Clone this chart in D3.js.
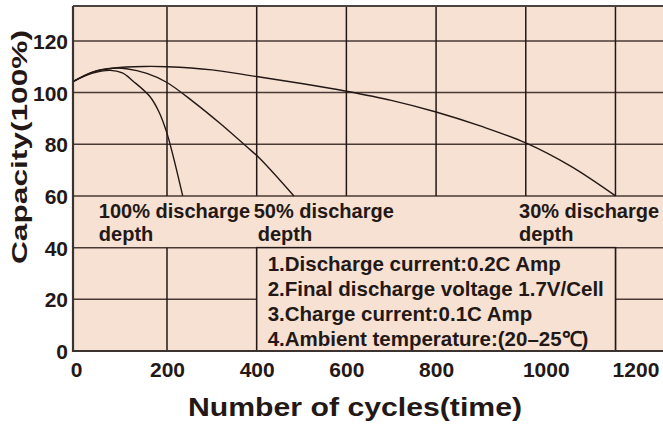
<!DOCTYPE html>
<html>
<head>
<meta charset="utf-8">
<script src="https://cdn.jsdelivr.net/npm/d3@7"></script>
<style>
  body { margin: 0; background: #fff; }
  svg text { font-family: "Liberation Sans", Arial, sans-serif; font-weight: bold; fill: #231815; }
</style>
</head>
<body>
<div class="myChart"></div>
<script>
var svgWidth = 663;
var svgHeight = 424;

// cycles / capacity
var cycles100 = [0, 40, 79, 105, 128, 164, 183, 199, 214, 235];
var cap100 = [104.2, 107.4, 108.6, 107.6, 104.4, 98.4, 92.5, 84.8, 75.2, 60];

var cycles50 = [0, 43, 86, 114, 157, 199, 259, 318, 378, 407, 483];
var cap50 = [104.2, 108.0, 109.4, 109.2, 107.4, 104.0, 96.4, 88.1, 79.0, 74.5, 60];

var cycles30 = [0, 40, 88, 150, 200, 300, 400, 500, 600, 700, 800, 900, 1000, 1100, 1200];
var cap30 = [104.2, 107.8, 109.5, 110.1, 110.0, 108.8, 106.2, 103.5, 100.5, 97, 92.5, 87, 80.5, 71.5, 60];

var xTicks = [0, 200, 400, 600, 800, 1000, 1200];
var yTicks = [0, 20, 40, 60, 80, 100, 120];

var curveLabels = [
  { cycles: 55, lines: ["100% discharge", "depth"] },
  { cycles: 400, lines: ["50% discharge", "depth"] },
  { cycles: 985, lines: ["30% discharge", "depth"] }
];
var noteLines = [
  "1.Discharge current:0.2C Amp",
  "2.Final discharge voltage 1.7V/Cell",
  "3.Charge current:0.1C Amp",
  "4.Ambient temperature:(20\u201325\u2103)"
];

var chartMargin = { top: 6, right: 0, bottom: 73, left: 73 };
var plotLeft = chartMargin.left;
var plotTop = chartMargin.top;
var plotRight = svgWidth - chartMargin.right;
var plotBottom = svgHeight - chartMargin.bottom;

// the first 200 cycles are drawn a little wider than the rest, as in the original
var x = d3.scaleLinear().domain([0, 200, 1306]).range([plotLeft, 167, plotRight]);
var y = d3.scaleLinear().domain([0, 133.5]).range([plotBottom, plotTop]);

var svg = d3.select(".myChart")
  .append("svg")
  .attr("width", svgWidth)
  .attr("height", svgHeight);

var bg = "#f6e1d3";
var ink = "#231815";

svg.append("rect")
  .attr("x", x(0)).attr("y", y(133.5))
  .attr("width", x(1306) - x(0)).attr("height", y(0) - y(133.5))
  .attr("fill", bg);

// horizontal grid
svg.append("g").selectAll("line")
  .data(yTicks.filter(function(d) { return d > 0; }))
  .enter().append("line")
    .attr("x1", x(0)).attr("x2", x(1306))
    .attr("y1", function(d) { return y(d); })
    .attr("y2", function(d) { return y(d); })
    .attr("stroke", "#4a3a35")
    .attr("stroke-width", 1.5);

// vertical grid, broken where the curve labels sit
var vg = svg.append("g");
xTicks.filter(function(d) { return d > 0; }).forEach(function(d) {
  vg.append("line")
    .attr("x1", x(d)).attr("x2", x(d))
    .attr("y1", y(133.5)).attr("y2", y(60))
    .attr("stroke", ink).attr("stroke-width", 1.5);
  vg.append("line")
    .attr("x1", x(d)).attr("x2", x(d))
    .attr("y1", y(40)).attr("y2", y(0))
    .attr("stroke", ink).attr("stroke-width", 1.5);
});

// notes box
svg.append("rect")
  .attr("x", x(400)).attr("y", y(40))
  .attr("width", x(1200) - x(400)).attr("height", y(0) - y(40))
  .attr("fill", bg)
  .attr("stroke", ink).attr("stroke-width", 1.5);

svg.append("g").selectAll("text")
  .data(noteLines)
  .enter().append("text")
    .attr("x", x(400) + 11)
    .attr("y", function(d, i) { return 271 + i * 25; })
    .style("font-size", "20.5px")
    .text(function(d) { return d; });

// curve labels
curveLabels.forEach(function(l, k) {
  var t = svg.append("text")
    .attr("x", x(l.cycles) + (k == 1 ? -3 : 0))
    .attr("y", 218)
    .style("font-size", "20px");
  t.append("tspan").text(l.lines[0]);
  t.append("tspan")
    .attr("x", x(l.cycles) + (k == 1 ? 1 : 0))
    .attr("dy", 23)
    .text(l.lines[1]);
});

// curves
var line = d3.line()
  .x(function(d) { return x(d[0]); })
  .y(function(d) { return y(d[1]); })
  .curve(d3.curveCatmullRom);

[[cycles100, cap100], [cycles50, cap50], [cycles30, cap30]].forEach(function(s) {
  svg.append("path")
    .datum(d3.zip(s[0], s[1]))
    .attr("d", line)
    .attr("fill", "none")
    .attr("stroke", ink)
    .attr("stroke-width", 1.4);
});

// frame: left and top, bottom axis line
svg.append("line").attr("x1", x(0)).attr("x2", x(0)).attr("y1", y(133.5)).attr("y2", y(0) + 1)
  .attr("stroke", "#3a3330").attr("stroke-width", 2.2);
svg.append("line").attr("x1", x(0)).attr("x2", x(1306)).attr("y1", y(133.5)).attr("y2", y(133.5))
  .attr("stroke", "#4a4340").attr("stroke-width", 2.2);
svg.append("line").attr("x1", x(0)).attr("x2", x(1306)).attr("y1", y(0)).attr("y2", y(0))
  .attr("stroke", "#3a3330").attr("stroke-width", 2);

// axes (labels only)
var bottomAxis = d3.axisBottom(x).tickValues(xTicks).tickFormat(d3.format("d")).tickSize(0).tickPadding(0);
var leftAxis = d3.axisLeft(y).tickValues(yTicks).tickFormat(d3.format("d")).tickSize(0).tickPadding(0);

var gx = svg.append("g")
  .attr("transform", "translate(0," + plotBottom + ")")
  .call(bottomAxis);
gx.select(".domain").remove();
gx.selectAll("text")
  .attr("y", 26)
  .attr("dy", 0)
  .attr("dx", function(d) { return d >= 1000 ? 20 : (d == 0 ? 3 : 0); })
  .style("font-size", "21px")
  .attr("fill", ink);
gx.attr("font-family", null).attr("font-size", null);

var gy = svg.append("g")
  .attr("transform", "translate(" + (plotLeft - 5) + ",0)")
  .call(leftAxis);
gy.select(".domain").remove();
gy.selectAll("text")
  .attr("dy", "0.36em")
  .style("font-size", "21px")
  .attr("fill", ink);
gy.attr("font-family", null).attr("font-size", null);

svg.append("text")
  .attr("transform", "rotate(-90)")
  .attr("x", -147)
  .attr("y", 27)
  .style("text-anchor", "middle")
  .style("font-size", "22px")
  .attr("textLength", 234)
  .attr("lengthAdjust", "spacingAndGlyphs")
  .text("Capacity(100%)");

svg.append("text")
  .attr("x", 355)
  .attr("y", 416)
  .style("text-anchor", "middle")
  .style("font-size", "26px")
  .attr("textLength", 334)
  .attr("lengthAdjust", "spacingAndGlyphs")
  .text("Number of cycles(time)");
</script>
</body>
</html>
